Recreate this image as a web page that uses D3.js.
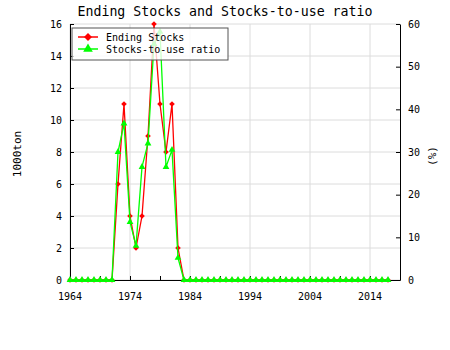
<!DOCTYPE html>
<html>
<head>
<meta charset="utf-8">
<script src="https://cdn.jsdelivr.net/npm/d3@7.9.0/dist/d3.min.js"></script>
<style>
  body { margin: 0; background: #fff; }
  svg text { font-family: "DejaVu Sans Mono", monospace; fill: #000; }
</style>
</head>
<body>
<svg id="chart" width="450" height="350"></svg>
<script>
// data
const years = [1964, 1965, 1966, 1967, 1968, 1969, 1970, 1971, 1972, 1973,
  1974, 1975, 1976, 1977, 1978, 1979, 1980, 1981, 1982, 1983,
  1984, 1985, 1986, 1987, 1988, 1989, 1990, 1991, 1992, 1993,
  1994, 1995, 1996, 1997, 1998, 1999, 2000, 2001, 2002, 2003,
  2004, 2005, 2006, 2007, 2008, 2009, 2010, 2011, 2012, 2013,
  2014, 2015, 2016, 2017];
const endingStocks = [0, 0, 0, 0, 0, 0, 0, 0, 6, 11,
  4, 2, 4, 9, 16, 11, 8, 11, 2, 0,
  0, 0, 0, 0, 0, 0, 0, 0, 0, 0,
  0, 0, 0, 0, 0, 0, 0, 0, 0, 0,
  0, 0, 0, 0, 0, 0, 0, 0, 0, 0,
  0, 0, 0, 0];
const stocksToUse = [0, 0, 0, 0, 0, 0, 0, 0, 30, 36.7,
  13.6, 8, 26.5, 32, 55.3, 58.2, 26.5, 30.5, 5.2, 0,
  0, 0, 0, 0, 0, 0, 0, 0, 0, 0,
  0, 0, 0, 0, 0, 0, 0, 0, 0, 0,
  0, 0, 0, 0, 0, 0, 0, 0, 0, 0,
  0, 0, 0, 0];
const xTickLabels = [1964, 1974, 1984, 1994, 2004, 2014];
const xMinorTicks = d3.range(1964, 2020, 5);
const leftTicks = [0, 2, 4, 6, 8, 10, 12, 14, 16];
const rightTicks = [0, 10, 20, 30, 40, 50, 60];

const margin = { top: 24, right: 50, bottom: 70, left: 70 };
const width = 450, height = 350;
const svg = d3.select('#chart');

const x = d3.scaleLinear().domain([1964, 2019]).range([margin.left, width - margin.right]);
const yL = d3.scaleLinear().domain([0, 16]).range([height - margin.bottom, margin.top]);
const yR = d3.scaleLinear().domain([0, 60]).range([height - margin.bottom, margin.top]);

// grid
svg.append('g')
  .selectAll('line.h')
  .data(leftTicks)
  .join('line')
  .attr('x1', margin.left).attr('x2', width - margin.right)
  .attr('y1', d => yL(d)).attr('y2', d => yL(d))
  .attr('stroke', '#dcdcdc');
svg.append('g')
  .selectAll('line.v')
  .data(xTickLabels)
  .join('line')
  .attr('x1', d => x(d)).attr('x2', d => x(d))
  .attr('y1', margin.top).attr('y2', height - margin.bottom)
  .attr('stroke', '#dcdcdc');

// axes
const xAxis = svg.append('g')
  .attr('transform', `translate(0,${height - margin.bottom})`)
  .call(d3.axisBottom(x).tickValues(xMinorTicks).tickSizeInner(-4).tickSizeOuter(0).tickFormat(''));
xAxis.append('g')
  .selectAll('text')
  .data(xTickLabels)
  .join('text')
  .attr('x', d => x(d)).attr('y', 20)
  .attr('text-anchor', 'middle')
  .style('font-size', '10px')
  .text(d => d);

const leftAxis = svg.append('g')
  .attr('transform', `translate(${margin.left},0)`)
  .call(d3.axisLeft(yL).tickValues(leftTicks).tickSizeInner(-4).tickSizeOuter(0).tickPadding(8));
const rightAxis = svg.append('g')
  .attr('transform', `translate(${width - margin.right},0)`)
  .call(d3.axisRight(yR).tickValues(rightTicks).tickSizeInner(-4).tickSizeOuter(0).tickPadding(8));
[xAxis, leftAxis, rightAxis].forEach(a => {
  a.selectAll('.domain').attr('stroke', '#000');
  a.selectAll('.tick line').attr('stroke', '#000');
  a.selectAll('.tick text').style('font-size', '10px').style('font-family', '"DejaVu Sans Mono", monospace');
});

// lines
const stockLine = d3.line().x((d, i) => x(years[i])).y(d => yL(d));
const ratioLine = d3.line().x((d, i) => x(years[i])).y(d => yR(d));

svg.append('path')
  .datum(endingStocks)
  .attr('d', stockLine)
  .attr('fill', 'none')
  .attr('stroke', '#ff0000')
  .attr('stroke-width', 1.3);
svg.append('g')
  .selectAll('path')
  .data(endingStocks)
  .join('path')
  .attr('transform', (d, i) => `translate(${x(years[i])},${yL(d)})`)
  .attr('d', d3.symbol(d3.symbolDiamond2, 20))
  .attr('fill', '#ff0000');

svg.append('path')
  .datum(stocksToUse)
  .attr('d', ratioLine)
  .attr('fill', 'none')
  .attr('stroke', '#00ff00')
  .attr('stroke-width', 1.3);
svg.append('g')
  .selectAll('path')
  .data(stocksToUse)
  .join('path')
  .attr('transform', (d, i) => `translate(${x(years[i])},${yR(d)})`)
  .attr('d', d3.symbol(d3.symbolTriangle, 20))
  .attr('fill', '#00ff00');

// title and axis labels
svg.append('text')
  .attr('x', 225).attr('y', 16)
  .attr('text-anchor', 'middle')
  .attr('textLength', 295).attr('lengthAdjust', 'spacingAndGlyphs')
  .style('font-size', '14px')
  .style('font-weight', '300')
  .text('Ending Stocks and Stocks-to-use ratio');
svg.append('text')
  .attr('transform', 'translate(21,154) rotate(-90)')
  .attr('text-anchor', 'middle')
  .style('font-size', '11px')
  .text('1000ton');
svg.append('text')
  .attr('transform', 'translate(436,156) rotate(-90)')
  .attr('text-anchor', 'middle')
  .style('font-size', '11px')
  .text('(%)');

// legend
const legend = svg.append('g');
legend.append('rect')
  .attr('x', 72).attr('y', 28).attr('width', 156).attr('height', 32)
  .attr('fill', '#fff').attr('fill-opacity', 0.8)
  .attr('stroke', '#555');
const legendItems = [
  { label: 'Ending Stocks', color: '#ff0000', symbol: d3.symbolDiamond2 },
  { label: 'Stocks-to-use ratio', color: '#00ff00', symbol: d3.symbolTriangle }
];
legendItems.forEach((d, i) => {
  const yy = 37 + i * 12;
  legend.append('line')
    .attr('x1', 78).attr('x2', 98).attr('y1', yy).attr('y2', yy)
    .attr('stroke', d.color).attr('stroke-width', 1.5);
  legend.append('path')
    .attr('transform', `translate(88,${yy})`)
    .attr('d', d3.symbol(d.symbol, 40))
    .attr('fill', d.color);
  legend.append('text')
    .attr('x', 106).attr('y', yy + 4)
    .style('font-size', '10px')
    .text(d.label);
});
</script>
</body>
</html>
